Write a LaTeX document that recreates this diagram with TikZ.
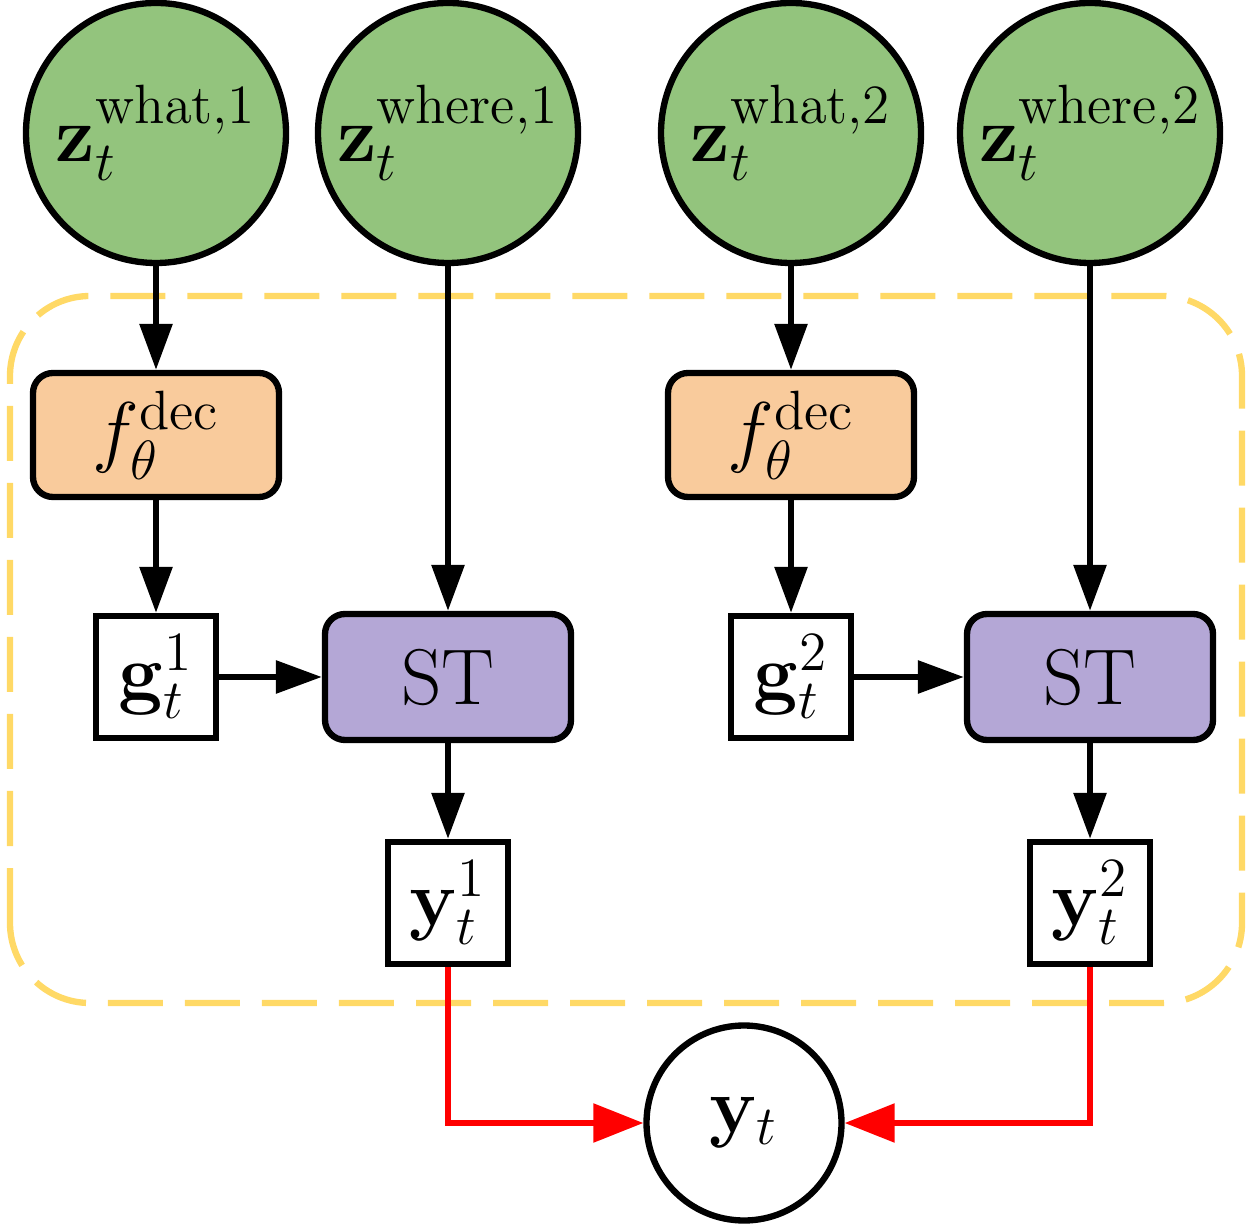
\RequirePackage{fix-cm}
\documentclass[tikz,border=0pt]{standalone}
\usepackage{amsmath}
\usepackage{tikz}
\usetikzlibrary{positioning,arrows.meta}

\definecolor{latgreen}{HTML}{93C47D}
\definecolor{decorange}{HTML}{F9CB9C}
\definecolor{stpurple}{HTML}{B4A7D6}
\definecolor{boxyellow}{HTML}{FFD966}

\tikzset{
  latent/.style = {circle, draw, fill = latgreen, line width = 1.8pt, minimum size = 2.6cm, inner sep = 0pt},
  decoder/.style = {rectangle, draw, fill = decorange, rounded corners = 0.2cm, line width = 1.8pt, minimum width = 2.46cm, minimum height = 1.24cm},
  transformer/.style = {rectangle, draw, fill = stpurple, rounded corners = 0.2cm, line width = 1.8pt, minimum width = 2.46cm, minimum height = 1.26cm},
  glimpse/.style = {rectangle, draw, fill = white, line width = 1.8pt, minimum width = 1.2cm, minimum height = 1.22cm, inner sep = 0pt},
  observed/.style = {circle, draw, fill = white, line width = 1.8pt, minimum size = 1.95cm, inner sep = 0pt},
  flow/.style = {line width = 1.7pt, -{Triangle[length = 0.46cm, width = 0.32cm]}},
  merge/.style = {red, line width = 1.6pt, -{Triangle[length = 0.5cm, width = 0.38cm]}}
}

\begin{document}
\begin{tikzpicture}[font = \fontsize{22.5}{27}\selectfont]
\useasboundingbox (0,0) rectangle (12.51,12.27);

% object box
\draw[boxyellow, line width = 1.8pt, dash pattern = on 0.55cm off 0.22cm, rounded corners = 0.8cm] (0.10,2.24) rectangle (12.42,9.31);

% latent variables
\node[latent] (zwhat1) at (1.56,10.94) {$\mathbf{z}_t^{\mathrm{what,1}}$};
\node[latent] (zwhere1) at (4.48,10.94) {$\mathbf{z}_t^{\mathrm{where,1}}$};
\node[latent] (zwhat2) at (7.91,10.94) {$\mathbf{z}_t^{\mathrm{what,2}}$};
\node[latent] (zwhere2) at (10.90,10.94) {$\mathbf{z}_t^{\mathrm{where,2}}$};

% decoders
\node[decoder] (dec1) at (1.56,7.92) {$f_\theta^{\mathrm{dec}}$};
\node[decoder] (dec2) at (7.91,7.92) {$f_\theta^{\mathrm{dec}}$};

% glimpses and spatial transformers
\node[glimpse] (g1) at (1.56,5.50) {$\mathbf{g}_t^1$};
\node[transformer] (st1) at (4.48,5.50) {ST};
\node[glimpse] (g2) at (7.91,5.50) {$\mathbf{g}_t^2$};
\node[transformer] (st2) at (10.90,5.50) {ST};

% per-object outputs
\node[glimpse] (y1) at (4.48,3.24) {$\mathbf{y}_t^1$};
\node[glimpse] (y2) at (10.90,3.24) {$\mathbf{y}_t^2$};
\node[observed] (yt) at (7.44,1.04) {$\mathbf{y}_t$};

\draw[flow] (zwhat1) -- (dec1);
\draw[flow] (dec1) -- (g1);
\draw[flow] (zwhere1) -- (st1);
\draw[flow] (g1) -- (st1);
\draw[flow] (st1) -- (y1);
\draw[flow] (zwhat2) -- (dec2);
\draw[flow] (dec2) -- (g2);
\draw[flow] (zwhere2) -- (st2);
\draw[flow] (g2) -- (st2);
\draw[flow] (st2) -- (y2);

\draw[merge] (y1.south) |- (yt.west);
\draw[merge] (y2.south) |- (yt.east);
\end{tikzpicture}
\end{document}
